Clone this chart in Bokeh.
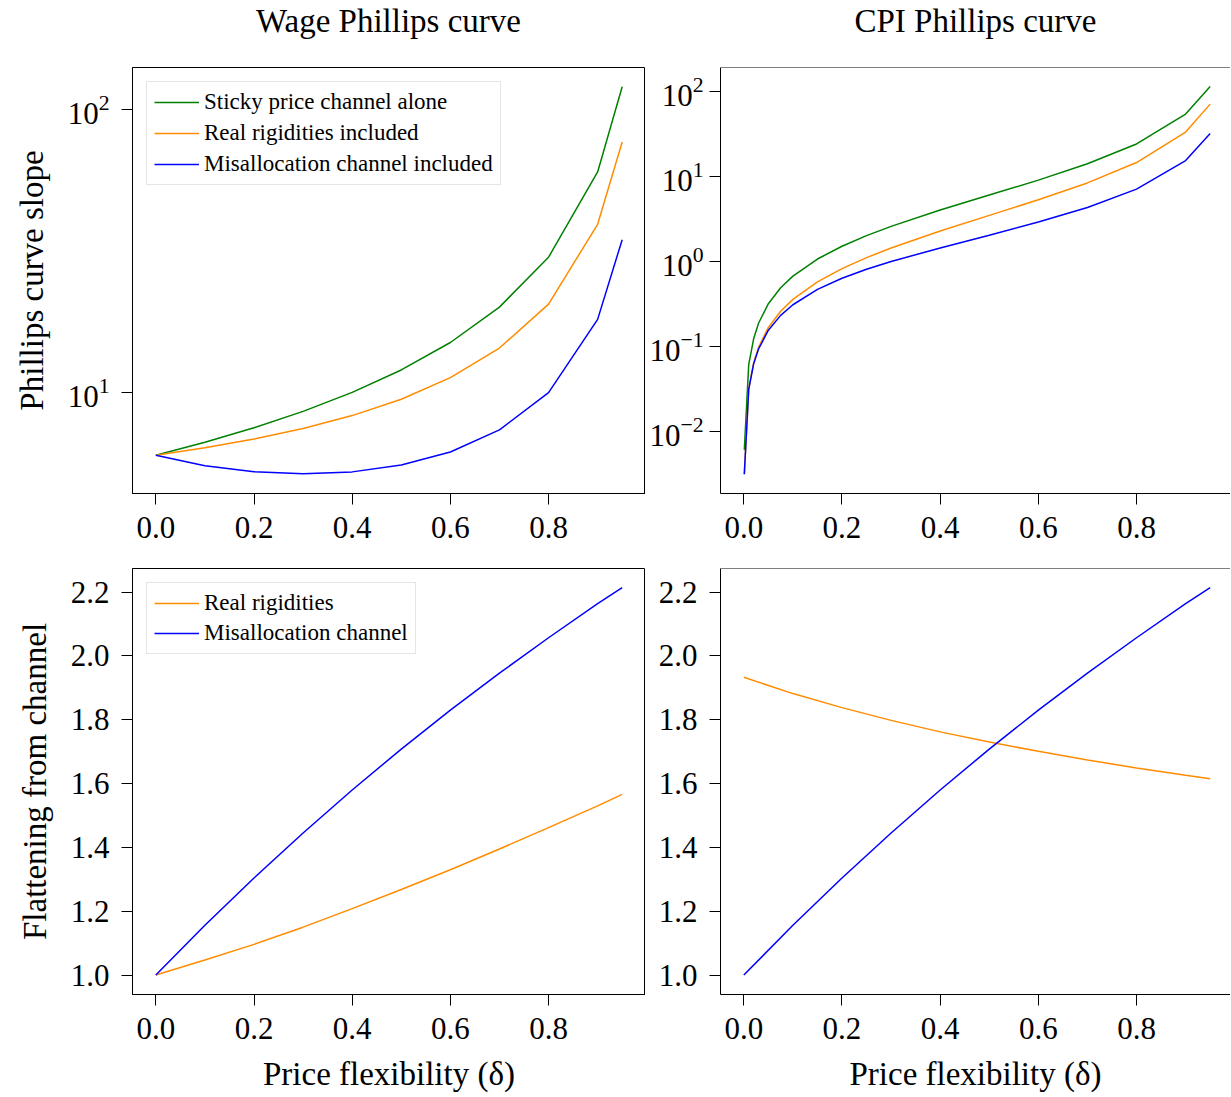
from bokeh.plotting import figure
from bokeh.models import (Range1d, FixedTicker, PrintfTickFormatter, Legend,
                          LegendItem, Span, Div)
from bokeh.layouts import column, row
from bokeh.embed import file_html
from bokeh.resources import INLINE

# ---------------- data ----------------
delta_wage = [0.0, 0.1, 0.2, 0.3, 0.4, 0.5, 0.6, 0.7, 0.8, 0.9, 0.95]
wage_sticky = [6.0, 6.67, 7.5, 8.57, 10.0, 12.0, 15.0, 20.0, 30.0, 60.0, 120.0]
wage_real = [6.0, 6.37, 6.84, 7.45, 8.28, 9.46, 11.28, 14.34, 20.5, 39.2, 76.6]
wage_misalloc = [6.0, 5.51, 5.25, 5.16, 5.24, 5.54, 6.16, 7.37, 9.98, 18.1, 34.6]

delta_cpi = [0.001, 0.01, 0.02, 0.03, 0.05, 0.075, 0.1, 0.15, 0.2, 0.25, 0.3,
             0.4, 0.5, 0.6, 0.7, 0.8, 0.9, 0.95]
cpi_sticky = [0.0060, 0.0606, 0.122, 0.186, 0.316, 0.487, 0.667, 1.06, 1.50,
              2.00, 2.57, 4.00, 6.00, 9.00, 14.0, 24.0, 54.0, 114.0]
cpi_real = [0.00311, 0.0315, 0.0637, 0.0969, 0.166, 0.257, 0.355, 0.571, 0.817,
            1.10, 1.43, 2.27, 3.46, 5.28, 8.34, 14.5, 33.1, 70.6]
cpi_misalloc = [0.00310, 0.0310, 0.0618, 0.0925, 0.154, 0.230, 0.307, 0.465,
                0.629, 0.803, 0.991, 1.43, 2.02, 2.89, 4.29, 7.05, 15.3, 31.9]

flat_wage_real = [1.0, 1.047, 1.096, 1.150, 1.208, 1.268, 1.330, 1.395, 1.462, 1.530, 1.566]
flat_wage_misalloc = [1.0, 1.156, 1.304, 1.445, 1.580, 1.708, 1.830, 1.946, 2.057, 2.164, 2.214]
flat_cpi_real = [1.933, 1.882, 1.838, 1.798, 1.762, 1.730, 1.701, 1.674, 1.649, 1.626, 1.615]
flat_cpi_misalloc = [1.0, 1.156, 1.304, 1.445, 1.580, 1.708, 1.830, 1.946, 2.057, 2.164, 2.214]

x_ticks = [0.0, 0.2, 0.4, 0.6, 0.8]
wage_log_ticks = [10, 100]
cpi_log_ticks = [0.01, 0.1, 1, 10, 100]
flat_ticks = [1.0, 1.2, 1.4, 1.6, 1.8, 2.0, 2.2]

col_title = ["Wage Phillips curve", "CPI Phillips curve"]
top_legend = ["Sticky price channel alone", "Real rigidities included",
              "Misallocation channel included"]
bottom_legend = ["Real rigidities", "Misallocation channel"]
ylab_top = "Phillips curve slope"
ylab_bottom = "Flattening from channel"
xlab = "Price flexibility (\u03b4)"

GREEN, ORANGE, BLUE = "#008000", "#ff8c00", "#0000ff"
FONT = "Liberation Serif"
FH = 426
TITLE_H = 45


def make_fig(ylog, yr, xend, ml, fw, mr, mt, mb, yticks, outline=True, ystand=12):
    p = figure(width=ml + fw + mr, height=mt + FH + mb, frame_width=fw, frame_height=FH,
               min_border_left=ml, min_border_right=mr, min_border_top=mt,
               min_border_bottom=mb, x_range=Range1d(-0.0475, xend),
               y_range=Range1d(*yr), y_axis_type="log" if ylog else "linear",
               output_backend="svg", toolbar_location=None)
    p.grid.visible = False
    p.background_fill_color = "white"
    p.border_fill_color = "white"
    p.outline_line_color = "black" if outline else None
    for ax in p.axis:
        ax.axis_line_color = "black"
        ax.major_tick_line_color = "black"
        ax.major_tick_out = 11
        ax.major_tick_in = 0
        ax.minor_tick_line_color = None
        ax.major_label_text_font = FONT
        ax.major_label_text_font_size = "31px"
        ax.major_label_text_color = "black"
        ax.axis_label_text_font = FONT
        ax.axis_label_text_font_size = "33px"
        ax.axis_label_text_font_style = "normal"
        ax.axis_label_text_color = "black"
    p.xaxis.ticker = FixedTicker(ticks=x_ticks)
    p.xaxis.formatter = PrintfTickFormatter(format="%.1f")
    p.xaxis.major_label_standoff = 12
    p.xaxis.axis_label_standoff = 14
    p.yaxis.ticker = FixedTicker(ticks=yticks)
    if not ylog:
        p.yaxis.formatter = PrintfTickFormatter(format="%.1f")
    p.yaxis.major_label_standoff = ystand
    p.yaxis.axis_label_standoff = 15
    if not outline:
        p.add_layout(Span(location=yr[1], dimension="width", line_color="black", line_width=1))
    return p


def add_legend(p, items, pad, pitch):
    lg = Legend(items=items, location="top_left", margin=14, padding=pad,
                spacing=pitch - 26, label_height=26, glyph_height=26, glyph_width=45,
                label_standoff=5, label_text_font=FONT, label_text_font_size="23px",
                label_text_color="black", border_line_color="#cccccc",
                border_line_width=1, background_fill_color="white",
                background_fill_alpha=1.0)
    p.add_layout(lg)


wage_yr = (10 ** 0.643, 10 ** 2.147)
cpi_yr = (10 ** -2.735, 10 ** 2.28)
flat_yr = (0.939, 2.274)

# column titles (HTML text row above the panels)
span_css = ("position:absolute;top:0;height:%dpx;line-height:42px;text-align:center;"
            "font-family:'Liberation Serif';font-size:33px;color:black;white-space:nowrap;")
title_html = (
    '<div style="position:relative;width:1231px;height:%dpx;">' % TITLE_H
    + '<span style="%sleft:132px;width:513px;">%s</span>' % (span_css % TITLE_H, col_title[0])
    + '<span style="%sleft:720px;width:511px;">%s</span>' % (span_css % TITLE_H, col_title[1])
    + '</div>'
)
titles = Div(text=title_html, width=1231, height=TITLE_H, margin=0)

# top-left
p1 = make_fig(True, wage_yr, 0.9975, 132, 513, 0, 67 - TITLE_H, 67, wage_log_ticks)
r1 = p1.line(delta_wage, wage_sticky, line_color=GREEN, line_width=1.5)
r2 = p1.line(delta_wage, wage_real, line_color=ORANGE, line_width=1.5)
r3 = p1.line(delta_wage, wage_misalloc, line_color=BLUE, line_width=1.5)
p1.yaxis.axis_label = ylab_top
add_legend(p1, [LegendItem(label=top_legend[0], renderers=[r1]),
                LegendItem(label=top_legend[1], renderers=[r2]),
                LegendItem(label=top_legend[2], renderers=[r3])], 7, 31)

# top-right
p2 = make_fig(True, cpi_yr, 0.9914, 75, 510, 0, 67 - TITLE_H, 67, cpi_log_ticks,
              outline=False, ystand=6)
p2.line(delta_cpi, cpi_sticky, line_color=GREEN, line_width=1.5)
p2.line(delta_cpi, cpi_real, line_color=ORANGE, line_width=1.5)
p2.line(delta_cpi, cpi_misalloc, line_color=BLUE, line_width=1.5)

# bottom-left
p3 = make_fig(False, flat_yr, 0.9975, 132, 513, 0, 8, 102, flat_ticks)
r4 = p3.line(delta_wage, flat_wage_real, line_color=ORANGE, line_width=1.5)
r5 = p3.line(delta_wage, flat_wage_misalloc, line_color=BLUE, line_width=1.5)
p3.yaxis.axis_label = ylab_bottom
p3.xaxis.axis_label = xlab
add_legend(p3, [LegendItem(label=bottom_legend[0], renderers=[r4]),
                LegendItem(label=bottom_legend[1], renderers=[r5])], 7, 30)

# bottom-right
p4 = make_fig(False, flat_yr, 0.9914, 75, 510, 0, 8, 102, flat_ticks,
              outline=False, ystand=12)
p4.line(delta_wage, flat_cpi_real, line_color=ORANGE, line_width=1.5)
p4.line(delta_wage, flat_cpi_misalloc, line_color=BLUE, line_width=1.5)
p4.xaxis.axis_label = xlab

layout = column(titles, row(p1, p2), row(p3, p4))
open("out.html", "w").write(file_html(layout, INLINE))
